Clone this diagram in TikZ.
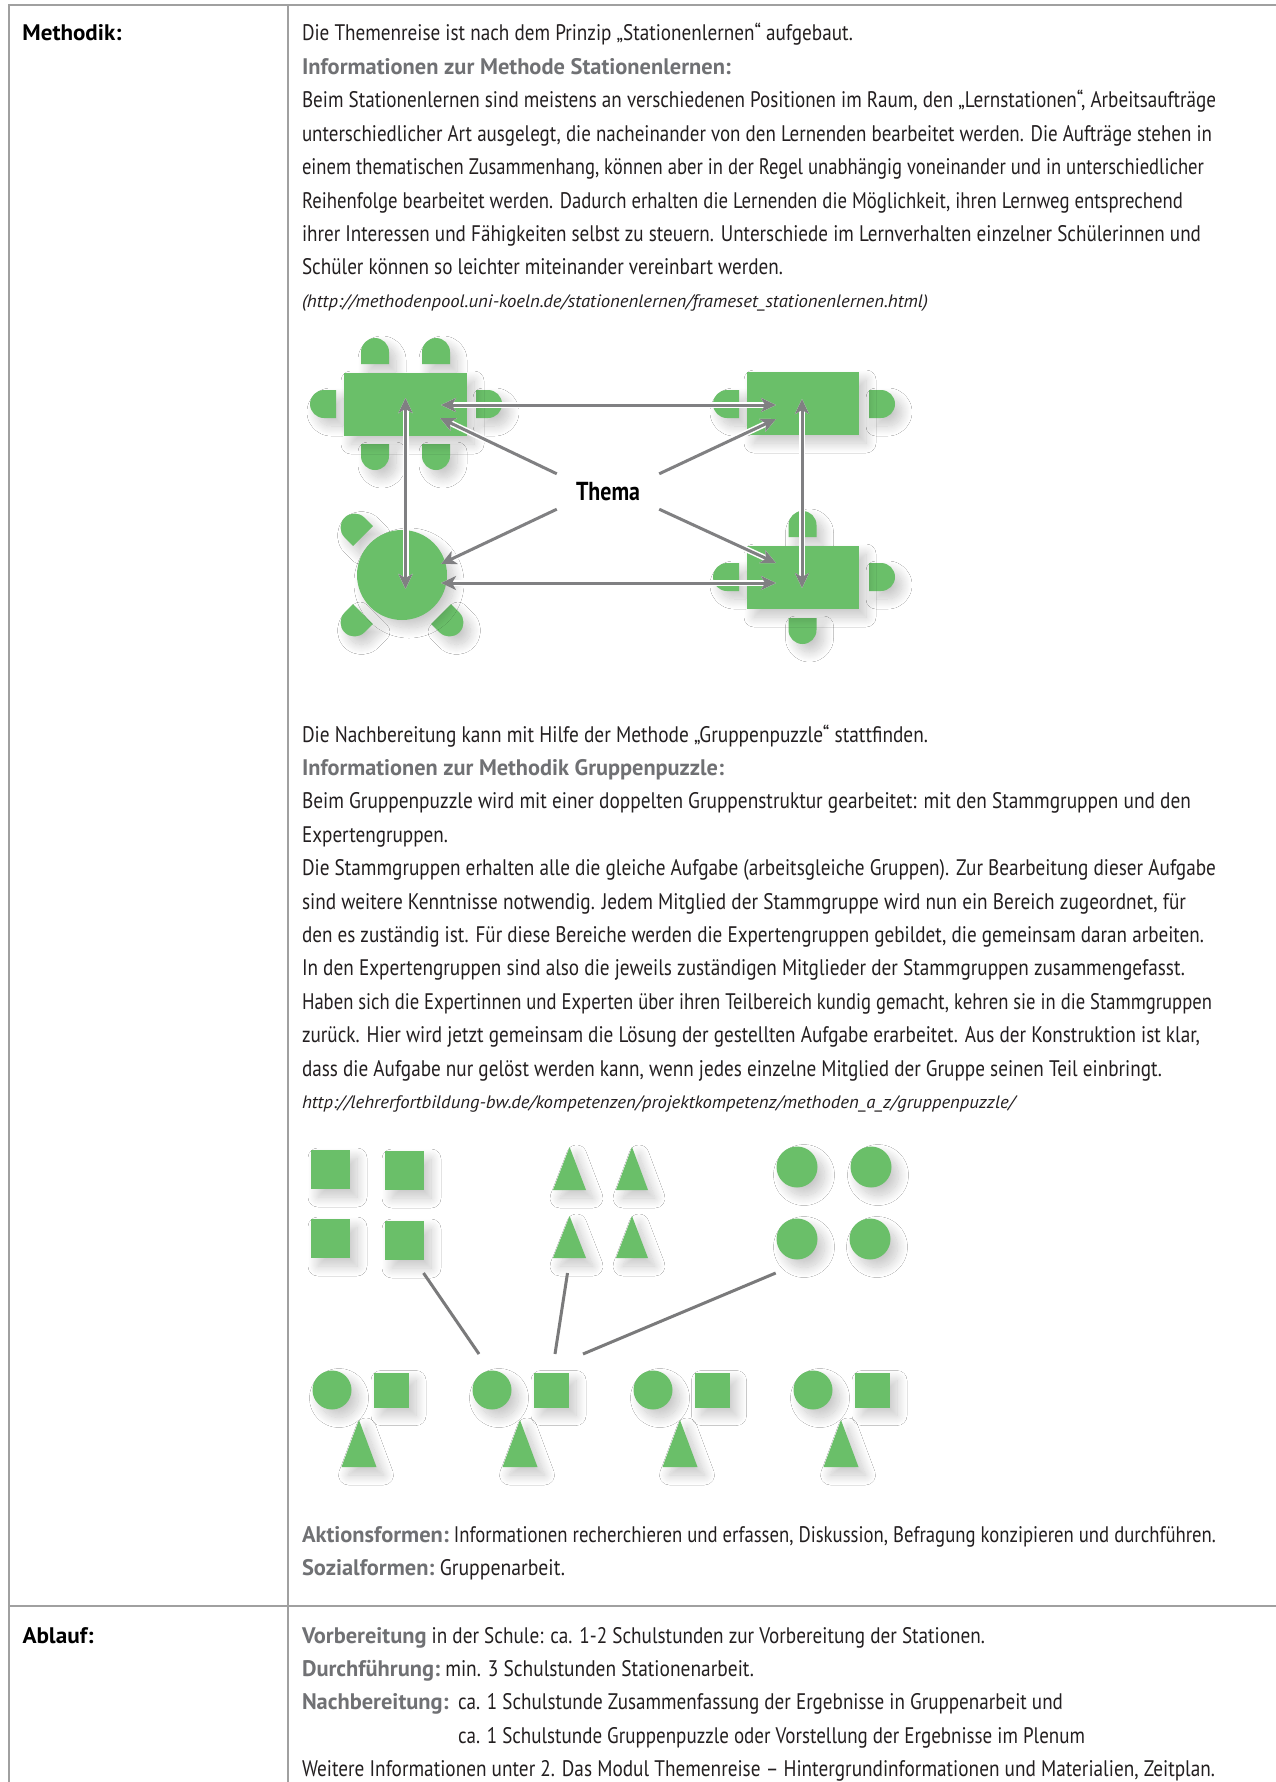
\documentclass[tikz,border=0pt]{standalone}
\usepackage{fontspec}
\setmainfont{PT Sans}
\usepackage{graphicx}
\usetikzlibrary{shadows.blur,arrows.meta}
\definecolor{grn}{HTML}{6ABF69}
\definecolor{arr}{HTML}{808082}
\definecolor{hd}{HTML}{707174}
\definecolor{rulec}{HTML}{A0A0A0}
\definecolor{txt}{HTML}{231F20}
\newlength\refw
\newlength\fitlen
\newsavebox\fitbox
\newcommand\hdg[1]{{\bfseries\color{hd}#1}}
% scale a text horizontally to a given width (in pt)
\newcommand\fitw[2]{\sbox\fitbox{#2}\setlength\fitlen{\wd\fitbox}\pgfmathsetmacro\fitf{#1/\fitlen}\scalebox{\fitf}[1]{\usebox\fitbox}}
% grey bold heading (fixed bold scale) followed by text fitted to the rest of the width
\newcommand\mixline[3]{\sbox\fitbox{\hdg{#2}}\setlength\fitlen{\sxb\wd\fitbox}\scalebox{\sxb}[1]{\usebox\fitbox}\pgfmathsetmacro\restw{#1-\fitlen}\fitw{\restw}{#3}}
\AtBeginDocument{%
\settowidth\refw{\fontsize{22.5}{27}\selectfont\bfseries Informationen zur Methode Stationenlernen:}%
\pgfmathsetmacro\sxb{429/\refw}\global\let\sxb\sxb
}
\begin{document}
\begin{tikzpicture}[x=1pt,y=-1pt,
  tx/.style={anchor=base west, inner sep=0pt, outer sep=0pt, font=\fontsize{22.5}{27}\selectfont, text=txt},
  ux/.style={tx, font=\fontsize{18}{22}\selectfont\itshape},
  lbl/.style={tx, font=\fontsize{22.5}{27}\selectfont\bfseries, text=black},
  sh/.style={blur shadow={shadow xshift=7pt, shadow yshift=-8pt, shadow blur radius=10pt, shadow blur steps=20, shadow opacity=22}},
  grnfill/.style={fill=grn, draw=none, sh},
  tbl/.style={rectangle, grnfill, inner sep=0pt, minimum width=112pt, minimum height=63pt},
  sq/.style={rectangle, grnfill, inner sep=0pt},
  dot/.style={circle, grnfill, inner sep=0pt},
  arrw/.style={draw=arr, line width=3pt, preaction={draw=white, line width=6pt}},
  >={Stealth[length=15pt,width=14pt,inset=4pt]},
  conn/.style={draw=arr!95!black, line width=3pt},
  chair/.pic={\fill[grn, sh] (-14,0) -- (-14,-12) arc[start angle=180, end angle=360, radius=14] -- (14,0) -- cycle;}
]
\useasboundingbox (0,0) rectangle (1276,1782);
\fill[white] (0,0) rectangle (1276,1782);

% table rules
\draw[rulec, line width=2pt] (1276,5.5) -- (9,5.5) -- (9,1782);
\draw[rulec, line width=2pt] (287.5,5.5) -- (287.5,1782);
\draw[rulec, line width=2pt] (9,1606) -- (1276,1606);

% labels
\node[lbl] (methodik) at (22.5,41) {\fitw{99}{Methodik:}};
\node[lbl] (ablauf) at (22.5,1643) {\fitw{71}{Ablauf:}};

% block 1
\node[tx] (t1) at (302,41) {\fitw{551}{Die Themenreise ist nach dem Prinzip „Stationenlernen“ aufgebaut.}};
\node[tx] (t2) at (302,74.4) {\fitw{429}{\hdg{Informationen zur Methode Stationenlernen:}}};
\node[tx] (t3) at (302,107.8) {\fitw{914}{Beim Stationenlernen sind meistens an verschiedenen Positionen im Raum, den „Lernstationen“, Arbeitsaufträge}};
\node[tx] (t4) at (302,141.2) {\fitw{910}{unterschiedlicher Art ausgelegt, die nacheinander von den Lernenden bearbeitet werden. Die Aufträge stehen in}};
\node[tx] (t5) at (302,174.6) {\fitw{902}{einem thematischen Zusammenhang, können aber in der Regel unabhängig voneinander und in unterschiedlicher}};
\node[tx] (t6) at (302,208) {\fitw{881}{Reihenfolge bearbeitet werden. Dadurch erhalten die Lernenden die Möglichkeit, ihren Lernweg entsprechend}};
\node[tx] (t7) at (302,241.4) {\fitw{899}{ihrer Interessen und Fähigkeiten selbst zu steuern. Unterschiede im Lernverhalten einzelner Schülerinnen und}};
\node[tx] (t8) at (302,274.8) {\fitw{481}{Schüler können so leichter miteinander vereinbart werden.}};
\node[ux] (t9) at (302,307.5) {\fitw{626}{(http://methodenpool.uni-koeln.de/stationenlernen/frameset\_stationenlernen.html)}};

% ---- Stationenlernen diagram
% chairs
\pic[rotate=0] at (375,364) {chair};
\pic[rotate=0] at (436,364) {chair};
\pic[rotate=180] at (375,444) {chair};
\pic[rotate=180] at (436,444) {chair};
\pic[rotate=90] at (336,404) {chair};
\pic[rotate=-90] at (476,404) {chair};
\pic[rotate=90] at (739,404) {chair};
\pic[rotate=-90] at (869,404) {chair};
\pic[rotate=0] at (802.5,537) {chair};
\pic[rotate=180] at (802.5,618) {chair};
\pic[rotate=90] at (739,577) {chair};
\pic[rotate=-90] at (869,577) {chair};
\pic[rotate=45] at (363,536) {chair};
\pic[rotate=135] at (363,614) {chair};
\pic[rotate=-135] at (441,614) {chair};
% tables
\node[tbl, minimum width=123pt] (tl) at (405.5,404.5) {};
\node[tbl] (tr) at (803,403.5) {};
\node[tbl] (br) at (803,577.5) {};
\node[dot, minimum size=90pt] (rt) at (402,575) {};
% Thema
\node[inner sep=0pt, minimum width=102pt, minimum height=35pt, font=\fontsize{26}{30}\selectfont\bfseries, text=black] (th) at (608,491.5) {\fitw{64}{Thema}};
% arrow ends
\coordinate (aTLr) at (441,405);
\coordinate (aTRl) at (776,405);
\coordinate (aRTr) at (441,583);
\coordinate (aBRl) at (776,583);
\coordinate (aTLt) at (405.5,398);
\coordinate (aRTb) at (405.5,589);
\coordinate (aTRt) at (802,399);
\coordinate (aBRb) at (802,588);
\coordinate (dTL) at (440,418);
\coordinate (dTR) at (776,419);
\coordinate (dRT) at (441,564);
\coordinate (dBR) at (776,563);
\draw[arrw, <->] (aTLr) -- (aTRl);
\draw[arrw, <->] (aRTr) -- (aBRl);
\draw[arrw, <->] (aTLt) -- (aRTb);
\draw[arrw, <->] (aTRt) -- (aBRb);
\draw[arrw, ->] (th.north west) -- (dTL);
\draw[arrw, ->] (th.north east) -- (dTR);
\draw[arrw, ->] (th.south west) -- (dRT);
\draw[arrw, ->] (th.south east) -- (dBR);

% block 2
\node[tx] (u1) at (302,742) {\fitw{626}{Die Nachbereitung kann mit Hilfe der Methode „Gruppenpuzzle“ stattfinden.}};
\node[tx] (u2) at (302,775.4) {\fitw{422}{\hdg{Informationen zur Methodik Gruppenpuzzle:}}};
\node[tx] (u3) at (302,808.8) {\fitw{889}{Beim Gruppenpuzzle wird mit einer doppelten Gruppenstruktur gearbeitet: mit den Stammgruppen und den}};
\node[tx] (u4) at (302,842.2) {\fitw{146}{Expertengruppen.}};
\node[tx] (u5) at (302,875.6) {\fitw{914}{Die Stammgruppen erhalten alle die gleiche Aufgabe (arbeitsgleiche Gruppen). Zur Bearbeitung dieser Aufgabe}};
\node[tx] (u6) at (302,909) {\fitw{884}{sind weitere Kenntnisse notwendig. Jedem Mitglied der Stammgruppe wird nun ein Bereich zugeordnet, für}};
\node[tx] (u7) at (302,942.4) {\fitw{902}{den es zuständig ist. Für diese Bereiche werden die Expertengruppen gebildet, die gemeinsam daran arbeiten.}};
\node[tx] (u8) at (302,975.8) {\fitw{883}{In den Expertengruppen sind also die jeweils zuständigen Mitglieder der Stammgruppen zusammengefasst.}};
\node[tx] (u9) at (302,1009.2) {\fitw{910}{Haben sich die Expertinnen und Experten über ihren Teilbereich kundig gemacht, kehren sie in die Stammgruppen}};
\node[tx] (u10) at (302,1042.6) {\fitw{898}{zurück. Hier wird jetzt gemeinsam die Lösung der gestellten Aufgabe erarbeitet. Aus der Konstruktion ist klar,}};
\node[tx] (u11) at (302,1076) {\fitw{860}{dass die Aufgabe nur gelöst werden kann, wenn jedes einzelne Mitglied der Gruppe seinen Teil einbringt.}};
\node[ux] (u12) at (302,1108.5) {\fitw{713}{http://lehrerfortbildung-bw.de/kompetenzen/projektkompetenz/methoden\_a\_z/gruppenpuzzle/}};

% ---- Gruppenpuzzle diagram
\node[sq, minimum size=39pt] (s1) at (330.5,1169.5) {};
\node[sq, minimum size=39pt] (s2) at (404.5,1170.5) {};
\node[sq, minimum size=39pt] (s3) at (330.5,1238.5) {};
\node[sq, minimum size=39pt] (s4) at (404.5,1240.5) {};
\fill[grn, sh] (553,1190) -- (569.6,1147) -- (586,1190) -- cycle;
\fill[grn, sh] (616,1190) -- (632,1147) -- (648,1190) -- cycle;
\fill[grn, sh] (553,1258) -- (569.6,1216) -- (586,1258) -- cycle;
\fill[grn, sh] (616,1258) -- (632,1216) -- (648,1258) -- cycle;
\node[dot, minimum size=41pt] (c1) at (797,1167) {};
\node[dot, minimum size=41pt] (c2) at (871,1167) {};
\node[dot, minimum size=41pt] (c3) at (797,1239) {};
\node[dot, minimum size=41pt] (c4) at (870,1239) {};
\foreach \i/\cx/\sxq/\tx in {1/332/391.5/359, 2/492/551.5/520, 3/653/712/680, 4/813/872.5/841} {
  \node[dot, minimum size=39pt] (bc\i) at (\cx,1390) {};
  \node[sq, minimum size=35pt] (bs\i) at (\sxq,1390) {};
  \fill[grn, sh] (\tx-17.5,1467) -- (\tx,1420) -- (\tx+17.5,1467) -- cycle;
}
\coordinate (l1a) at (423.5,1273);
\coordinate (l1b) at (479,1354);
\coordinate (l2a) at (567.5,1273);
\coordinate (l2b) at (555,1354);
\coordinate (l3a) at (775.7,1273);
\coordinate (l3b) at (583,1354);
\draw[conn] (l1a) -- (l1b);
\draw[conn] (l2a) -- (l2b);
\draw[conn] (l3a) -- (l3b);

% block 3
\node[tx] (v1) at (302,1542) {\mixline{914}{Aktionsformen:}{\ Informationen recherchieren und erfassen, Diskussion, Befragung konzipieren und durchführen.}};
\node[tx] (v2) at (302,1575.4) {\mixline{263}{Sozialformen:}{\ Gruppenarbeit.}};
\node[tx] (w1) at (302,1643) {\mixline{683}{Vorbereitung}{\ in der Schule: ca. 1-2 Schulstunden zur Vorbereitung der Stationen.}};
\node[tx] (w2) at (302,1676.4) {\mixline{452}{Durchführung:}{\ min. 3 Schulstunden Stationenarbeit.}};
\node[tx] (w3) at (302,1709.8) {\scalebox{\sxb}[1]{\hdg{Nachbereitung:}}};
\node[tx] (w3b) at (458,1709.8) {\fitw{605}{ca. 1 Schulstunde Zusammenfassung der Ergebnisse in Gruppenarbeit und}};
\node[tx] (w4) at (w3b.base west |- 0,1743.2) {\fitw{627}{ca. 1 Schulstunde Gruppenpuzzle oder Vorstellung der Ergebnisse im Plenum}};
\node[tx] (w5) at (302,1776.6) {\fitw{913}{Weitere Informationen unter 2. Das Modul Themenreise – Hintergrundinformationen und Materialien, Zeitplan.}};
\end{tikzpicture}
\end{document}
